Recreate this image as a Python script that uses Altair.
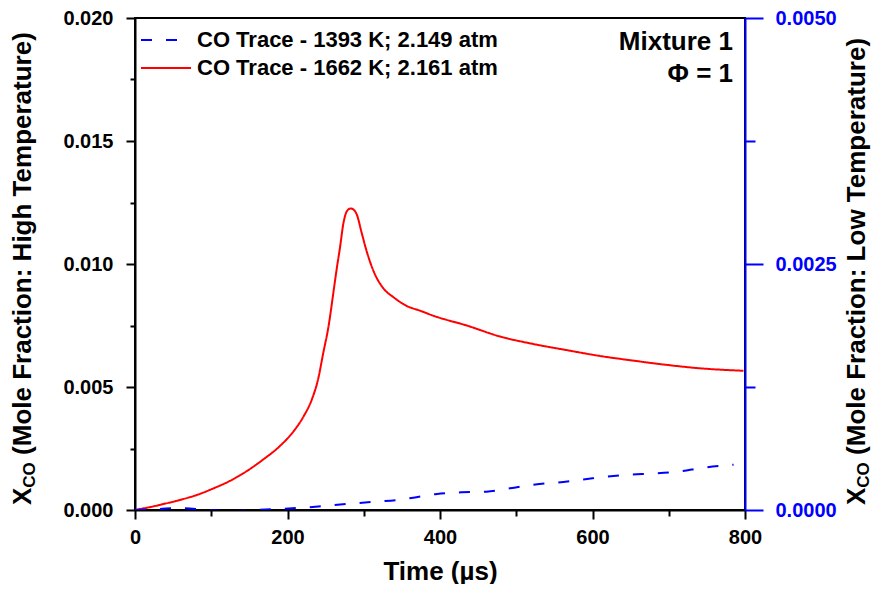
import altair as alt
import pandas as pd

FONT = "Liberation Sans"

# ---- data ----
lab_lo = "CO Trace - 1393 K; 2.149 atm"
lab_hi = "CO Trace - 1662 K; 2.161 atm"

t_hi = [0, 20, 37, 59, 81, 103, 125, 147, 168, 190, 208, 221, 232, 240, 247, 254,
        260, 265, 269, 273, 278, 283, 287, 291, 297, 304, 313, 326, 339, 356, 374,
        391, 435, 479, 522, 566, 610, 654, 697, 741, 798]
x_hi = [0.0, 0.00012, 0.00024, 0.00041, 0.00061, 0.00088, 0.00119, 0.00159, 0.00205,
        0.0026, 0.0032, 0.0038, 0.0045, 0.0053, 0.0064, 0.0075, 0.0088, 0.0099,
        0.0107, 0.0116, 0.01215, 0.01226, 0.0122, 0.0120, 0.0113, 0.0105, 0.0097,
        0.0090, 0.00865, 0.0083, 0.0081, 0.0079, 0.0075, 0.00705, 0.00675, 0.0065,
        0.00626, 0.00607, 0.0059, 0.00576, 0.00566]

t_lo = [0, 30, 60, 95, 125, 157, 186, 221, 251, 282, 315, 343, 365, 396, 428, 461,
        492, 525, 555, 588, 619, 649, 680, 713, 745, 785]
x_lo = [0.0, 0.00001, 0.00002, 0.0, -0.00001, 0.0, 0.00001, 0.000024, 0.000044,
        0.000064, 0.000085, 0.0001, 0.000125, 0.000163, 0.00018, 0.000186, 0.00022,
        0.00026, 0.00028, 0.00031, 0.00034, 0.00036, 0.00037, 0.00039, 0.00043, 0.00046]

x_ticks = [0, 100, 200, 300, 400, 500, 600, 700, 800]
yl_ticks = [0, 0.0025, 0.005, 0.0075, 0.01, 0.0125, 0.015, 0.0175, 0.02]
yr_ticks = [0, 0.00125, 0.0025, 0.00375, 0.005]

x_title = "Time (µs)"
title_main = "X"
title_sub = "CO"
left_rest = "(Mole Fraction: High Temperature)"
right_rest = "(Mole Fraction: Low Temperature)"
note1 = "Mixture 1"
note2 = "Φ = 1"

hi_df = pd.DataFrame({"t": t_hi, "x": x_hi, "series": lab_hi})
lo_df = pd.DataFrame({"t": t_lo, "x": x_lo, "series": lab_lo})

color_scale = alt.Scale(domain=[lab_lo, lab_hi], range=["#0000ff", "#ff0000"])
dash_scale = alt.Scale(domain=[lab_lo, lab_hi], range=[[11, 14], [1, 0]])

minor_x = "datum.value % 200 != 0"
minor_yl = "abs(datum.value*200 - round(datum.value*200)) > 0.01"
minor_yr = "abs(datum.value*400 - round(datum.value*400)) > 0.01"

x_enc = alt.X(
    "t:Q",
    scale=alt.Scale(domain=[0, 800], nice=False, zero=False),
    axis=alt.Axis(
        orient="bottom", values=x_ticks, title=x_title, labelFlush=False,
        labelExpr=f"{minor_x} ? '' : datum.label",
        tickSize={"condition": {"test": minor_x, "value": 6}, "value": 9},
        labelPadding=8, titlePadding=11,
    ),
)

leg = alt.Legend(title=None, orient="none", legendX=20, legendY=11,
                 symbolType="M-2.5,0H2.5", symbolSize=400, symbolStrokeWidth=2,
                 labelFontSize=22, labelFont=FONT, labelFontWeight="bold",
                 labelColor="black", labelOffset=20, rowPadding=6, padding=0,
                 labelLimit=0)

hi = alt.Chart(hi_df).mark_line(strokeWidth=2, clip=True, interpolate="monotone").encode(
    x=x_enc,
    y=alt.Y("x:Q", scale=alt.Scale(domain=[0, 0.02], nice=False),
            axis=alt.Axis(orient="left", values=yl_ticks, title=None, labelFlush=False,
                          labelExpr=f"{minor_yl} ? '' : format(datum.value, '.3f')",
                          tickSize={"condition": {"test": minor_yl, "value": 5}, "value": 9},
                          labelPadding=13)),
    color=alt.Color("series:N", scale=color_scale, legend=leg),
    strokeDash=alt.StrokeDash("series:N", scale=dash_scale, legend=leg),
)

lo = alt.Chart(lo_df).mark_line(strokeWidth=2, clip=True, interpolate="monotone").encode(
    x=x_enc,
    y=alt.Y("x:Q", scale=alt.Scale(domain=[0, 0.005], nice=False),
            axis=alt.Axis(orient="right", values=yr_ticks, title=None, labelFlush=False,
                          labelExpr=f"{minor_yr} ? '' : format(datum.value, '.4f')",
                          tickSize={"condition": {"test": minor_yr, "value": 10}, "value": 18},
                          labelPadding=12, domainColor="#0000ff", tickColor="#0000ff",
                          labelColor="#0000ff")),
    color=alt.Color("series:N", scale=color_scale, legend=leg),
    strokeDash=alt.StrokeDash("series:N", scale=dash_scale, legend=leg),
)


def txt(s, x, y, size, angle=0, align="left", baseline="alphabetic"):
    kw = dict(align=align, baseline=baseline, fontSize=size, fontWeight="bold",
              font=FONT, color="black")
    if angle:
        kw["angle"] = angle
    return alt.Chart(pd.DataFrame({"s": [s]})).mark_text(**kw).encode(
        text="s:N", x=alt.value(x), y=alt.value(y))


TS = 26
SUB = 17
left_x = -104
right_x = 730
y0 = 487
w_x = 0.667 * TS
w_sub = 1.5 * SUB
w_sp = 0.278 * TS

layers = [hi, lo]
for bx, rest in [(left_x, left_rest), (right_x, right_rest)]:
    layers.append(txt(title_main, bx, y0, TS, angle=270))
    layers.append(txt(title_sub, bx + 4, y0 - w_x, SUB, angle=270))
    layers.append(txt(rest, bx, y0 - w_x - w_sub - w_sp, TS, angle=270))
layers.append(txt(note1, 598, 32, TS, align="right"))
layers.append(txt(note2, 598, 64, TS, align="right"))

chart = alt.layer(*layers).resolve_scale(y="independent").properties(
    width=610, height=492, autosize="none",
    padding={"left": 127, "top": 10, "right": 127, "bottom": 74},
).configure_view(stroke="black", strokeWidth=2).configure_axis(
    grid=False, domainColor="black", domainWidth=2, tickColor="black", tickWidth=2,
    labelFont=FONT, labelFontSize=20, labelFontWeight="bold", labelColor="black",
    titleFont=FONT, titleFontSize=TS, titleFontWeight="bold", titleColor="black",
)

chart.save("out.html", embed_options={"renderer": "svg", "actions": False})
